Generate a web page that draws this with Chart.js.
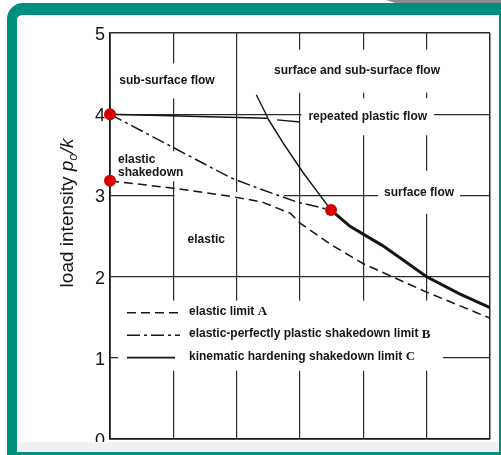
<!DOCTYPE html>
<html>
<head>
<meta charset="utf-8">
<script src="https://cdn.jsdelivr.net/npm/chart.js@4/dist/chart.umd.min.js"></script>
<style>
  html, body { margin: 0; padding: 0; width: 501px; height: 455px; overflow: hidden; background: #fff; }
  #frame { position: absolute; left: 7px; top: 3px; width: 494px; height: 452px; box-sizing: border-box;
           border-left: 10px solid #00907f; border-top: 12px solid #00907f; border-right: 2px solid #00907f;
           border-bottom: 3px solid #00907f; border-top-left-radius: 16px; background: #fff; z-index: 1; }
  #tab { position: absolute; left: 386px; top: 0; width: 115px; height: 3px; background: #8d8d8d;
         clip-path: polygon(0 0, 100% 0, 100% 100%, 8% 100%); z-index: 1; }
  #strip { position: absolute; left: 17px; top: 442px; width: 482px; height: 10px; background: #f1f1f1; z-index: 3; }
  #wrap { position: absolute; left: 0; top: 0; width: 501px; height: 455px; z-index: 2; }
</style>
</head>
<body>
<div id="tab"></div>
<div id="frame"></div>
<div id="wrap"><canvas id="map" width="501" height="455"></canvas></div>
<div id="strip"></div>
<script>
// Shakedown map: traction coefficient (0 – 0.6) against load intensity p0/k (0 – 5)
const yTicks = [0, 1, 2, 3, 4, 5];

// elastic limit A
const elasticX = [0, 0.1, 0.19, 0.24, 0.285, 0.3, 0.35, 0.4, 0.5, 0.6];
const elasticY = [3.18, 3.09, 2.99, 2.92, 2.78, 2.66, 2.39, 2.16, 1.81, 1.49];

// elastic-perfectly plastic shakedown limit B (joins C at index plasticJoin)
const plasticX = [0, 0.19, 0.237, 0.295, 0.349, 0.379, 0.431, 0.5, 0.552, 0.6];
const plasticY = [4.0, 3.22, 3.08, 2.92, 2.82, 2.62, 2.38, 2.0, 1.79, 1.62];
const plasticJoin = 4;

// kinematic hardening shakedown limit C
const kinematicX = [0, 0.249, 0.273, 0.305, 0.327, 0.349, 0.379, 0.431, 0.5, 0.552, 0.6];
const kinematicY = [4.0, 3.95, 3.65, 3.28, 3.05, 2.82, 2.62, 2.38, 2.0, 1.79, 1.62];

// surface / sub-surface flow boundary above C, and the repeated plastic flow edge
const boundaryX = [0.231, 0.249];
const boundaryY = [4.24, 3.96];
const repeatedX = [0.264, 0.3];
const repeatedY = [3.93, 3.905];

// marked points
const markX = [0, 0, 0.349];
const markY = [4.0, 3.18, 2.82];

const pts = (xs, ys) => xs.map((x, i) => ({ x, y: ys[i] }));

const INK = '#151515';
const SANS = "'Liberation Sans', Arial, sans-serif";
const SERIF = "'Liberation Serif', 'Times New Roman', serif";
const DASH_A = [9, 5];
const DASH_B = [13, 4, 3, 4];

const datasets = [
  { label: 'marks', data: pts(markX, markY), showLine: false, pointRadius: 6, pointHoverRadius: 6,
    pointBackgroundColor: '#d40000', pointBorderWidth: 0, clip: false },
  { label: 'elastic limit', key: 'A', data: pts(elasticX, elasticY), showLine: true, pointRadius: 0,
    borderColor: INK, borderWidth: 1.5, borderDash: DASH_A },
  { label: 'elastic-perfectly plastic shakedown limit', key: 'B', data: pts(plasticX, plasticY), showLine: true,
    pointRadius: 0, borderColor: INK, borderWidth: 1.5, borderDash: DASH_B,
    segment: {
      borderDash: ctx => ctx.p0DataIndex >= plasticJoin ? [] : DASH_B,
      borderWidth: ctx => ctx.p0DataIndex >= plasticJoin ? 3 : 1.5
    } },
  { label: 'kinematic hardening shakedown limit', key: 'C', data: pts(kinematicX, kinematicY), showLine: true,
    pointRadius: 0, borderColor: INK, borderWidth: 1.5 },
  { label: 'boundary', data: pts(boundaryX, boundaryY), showLine: true, pointRadius: 0, borderColor: INK, borderWidth: 1.4 },
  { label: 'repeated', data: pts(repeatedX, repeatedY), showLine: true, pointRadius: 0, borderColor: INK, borderWidth: 1.4 }
];

// region names written on the map
const regionLabels = [
  { text: 'sub-surface flow', x: 0.09, y: 4.41, align: 'center', pad: [4, 11] },
  { text: 'surface and sub-surface flow', x: 0.39, y: 4.53, align: 'center', pad: [4, 15] },
  { text: 'repeated plastic flow', x: 0.407, y: 3.97, align: 'center', pad: [7, 12] },
  { text: 'surface flow', x: 0.488, y: 3.04, align: 'center', pad: [6, 15] },
  { text: 'elastic\nshakedown', x: 0.0126, y: 3.36, align: 'left', pad: [3, 2] },
  { text: 'elastic', x: 0.152, y: 2.46, align: 'center', pad: [0, 0] }
];
// places where the grid is left open
const gridBreaks = [ { x0: 0.102, x1: 0.275, y0: 2.96, y1: 3.04 } ];

const mapPlugin = {
  id: 'mapDecor',
  beforeDatasetsDraw(chart) {
    const { ctx, scales: { x, y } } = chart;
    ctx.save();
    ctx.fillStyle = '#fff';
    for (const b of gridBreaks) {
      const a = x.getPixelForValue(b.x0), c = x.getPixelForValue(b.x1);
      const d = y.getPixelForValue(b.y0), e = y.getPixelForValue(b.y1);
      ctx.fillRect(Math.min(a, c), Math.min(d, e), Math.abs(c - a), Math.abs(e - d));
    }
    ctx.font = 'bold 12px ' + SANS;
    ctx.textBaseline = 'middle';
    const lh = 13;
    for (const l of regionLabels) {
      const lines = l.text.split('\n');
      const w = Math.max(...lines.map(t => ctx.measureText(t).width));
      const px = x.getPixelForValue(l.x), py = y.getPixelForValue(l.y);
      const left = l.align === 'center' ? px - w / 2 : px;
      const h = lines.length * lh;
      ctx.fillStyle = '#fff';
      ctx.fillRect(left - l.pad[0], py - h / 2 - l.pad[1], w + 2 * l.pad[0], h + 2 * l.pad[1]);
      ctx.fillStyle = INK;
      ctx.textAlign = 'left';
      lines.forEach((t, i) => ctx.fillText(t, left, py - h / 2 + lh / 2 + i * lh));
    }
    // legend inside the plot
    const lx = x.getPixelForValue(0.0268), ly = y.getPixelForValue(1.57);
    const rows = chart.data.datasets.filter(d => d.key);
    const rowGap = 22.5;
    ctx.fillStyle = '#fff';
    ctx.fillRect(lx - 9, ly - 11, 325, 70);
    rows.forEach((d, i) => {
      const ry = ly + i * rowGap;
      ctx.strokeStyle = INK;
      ctx.lineWidth = d.key === 'C' ? 1.8 : 1.5;
      ctx.setLineDash(d.borderDash || []);
      ctx.beginPath();
      ctx.moveTo(lx, ry + 1);
      ctx.lineTo(lx + (d.key === 'C' ? 48 : 53), ry + 1);
      ctx.stroke();
      ctx.setLineDash([]);
      ctx.fillStyle = INK;
      const tx = lx + 62;
      const txt = d.label + ' ';
      ctx.font = 'bold 12px ' + SANS;
      ctx.textAlign = 'left';
      ctx.fillText(txt, tx, ry);
      const m = ctx.measureText(txt).width;
      ctx.font = 'bold 13px ' + SERIF;
      ctx.fillText(d.key, tx + m, ry);
    });
    ctx.restore();
  },
  afterDraw(chart) {
    // axis title: load intensity p_o/k
    const { ctx } = chart;
    const parts = [
      { t: 'load intensity ', f: '19px ' + SANS, dy: 0 },
      { t: 'p', f: 'italic 19px ' + SANS, dy: 0 },
      { t: 'o', f: 'italic 13px ' + SANS, dy: 4 },
      { t: '/k', f: 'italic 19px ' + SANS, dy: 0 }
    ];
    ctx.save();
    let total = 0;
    for (const p of parts) { ctx.font = p.f; p.w = ctx.measureText(p.t).width; total += p.w; }
    ctx.translate(72.5, 213);
    ctx.rotate(-Math.PI / 2);
    ctx.fillStyle = INK;
    ctx.textBaseline = 'alphabetic';
    ctx.textAlign = 'left';
    let cx = -total / 2;
    for (const p of parts) { ctx.font = p.f; ctx.fillText(p.t, cx, p.dy); cx += p.w; }
    ctx.restore();
  }
};

const gridWidth = c => (c.index === 0 || c.tick.value === c.scale.max) ? 1.5 : 1.2;

new Chart(document.getElementById('map'), {
  type: 'scatter',
  data: { datasets },
  options: {
    responsive: false,
    animation: false,
    devicePixelRatio: 1,
    layout: { padding: { left: 0, top: 33, right: 11, bottom: 14 } },
    plugins: { legend: { display: false }, tooltip: { enabled: false } },
    scales: {
      x: {
        type: 'linear', min: 0, max: 0.6,
        ticks: { display: false, stepSize: 0.1 },
        grid: { color: '#2a2a2a', lineWidth: gridWidth, drawTicks: false },
        border: { display: true, color: INK, width: 1.6 },
        afterFit: s => { s.height = 0; }
      },
      y: {
        type: 'linear', min: 0, max: 5,
        afterBuildTicks: s => { s.ticks = yTicks.map(v => ({ value: v })); },
        ticks: { color: INK, padding: 5, labelOffset: 2, font: { family: SANS, size: 18 } },
        grid: { color: '#2a2a2a', lineWidth: gridWidth, drawTicks: false },
        border: { display: true, color: INK, width: 1.6 },
        afterFit: s => { s.width = 110; }
      }
    }
  },
  plugins: [mapPlugin]
});
</script>
</body>
</html>
